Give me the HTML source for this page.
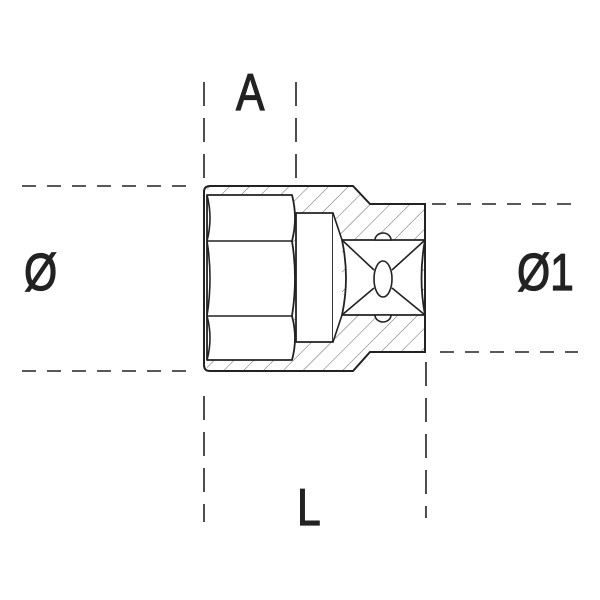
<!DOCTYPE html>
<html><head><style>
html,body{margin:0;padding:0;background:#fff;}
svg{display:block}
text{font-family:"Liberation Sans",sans-serif;fill:#222;stroke:#222;stroke-width:1.2;}
</style></head><body>
<svg width="600" height="600" viewBox="0 0 600 600" xmlns="http://www.w3.org/2000/svg">
<defs>
<pattern id="h" patternUnits="userSpaceOnUse" width="14" height="14" patternTransform="rotate(45)">
<line x1="0" y1="0" x2="0" y2="14" stroke="#555" stroke-width="0.9"/>
</pattern>
<clipPath id="wall">
<path d="M207,186 L353,186 L370,204 L425,204 L425,352 L370,352 L353,371 L207,371 Z" />
</clipPath>
</defs>
<g stroke="#222" stroke-width="1.6" stroke-dasharray="14,11" fill="none">
<line x1="22" y1="186" x2="192" y2="186"/>
<line x1="22" y1="371" x2="192" y2="371"/>
<line x1="432" y1="204" x2="578" y2="204"/>
<line x1="440" y1="352" x2="578" y2="352"/>
</g>
<g stroke="#222" stroke-width="1.6" stroke-dasharray="24,12" fill="none">
<line x1="204" y1="82" x2="204" y2="178"/>
<line x1="296" y1="82" x2="296" y2="178"/>
<line x1="204" y1="396" x2="204" y2="522"/>
<line x1="426" y1="362" x2="426" y2="518"/>
</g>
<rect x="200" y="180" width="230" height="200" fill="url(#h)" clip-path="url(#wall)"/>
<g fill="#fff" stroke="#222" stroke-width="1.8" stroke-linejoin="round">
<path d="M207,195 L292,195 Q298,218 292,241 Q298,278 292,316 Q298,338 292,360 L207,360 Z"/>
<rect x="296" y="213" width="37" height="129"/>
<path d="M333,213 L342,240 L342,315 L333,342 Z" stroke="none"/>
<path d="M342,240 L425,240 Q418,278 425,315 L342,315 Q350,278 342,240 Z"/>
</g>
<g stroke="#222" stroke-width="1.6" fill="none">
<line x1="333" y1="213" x2="342" y2="240"/>
<line x1="333" y1="342" x2="342" y2="315"/>
<line x1="207" y1="241" x2="292" y2="241"/>
<line x1="207" y1="316" x2="292" y2="316"/>
<path d="M207,195 Q213,218 207,241 Q213,278 207,316 Q213,338 207,360"/>
<line x1="342" y1="240" x2="374" y2="270"/>
<line x1="425" y1="240" x2="392" y2="270"/>
<line x1="342" y1="315" x2="374" y2="288"/>
<line x1="425" y1="315" x2="392" y2="288"/>
</g>
<ellipse cx="383" cy="279" rx="9" ry="18" fill="#fff" stroke="#222" stroke-width="1.6"/>
<path d="M375,240 A8,7 0 0 1 391,240 Z" fill="#fff" stroke="#222" stroke-width="1.6"/>
<path d="M375,315 A8,7 0 0 0 391,315 Z" fill="#fff" stroke="#222" stroke-width="1.6"/>
<path d="M210,186 L353,186 L370,204 L425,204 L425,352 L370,352 L353,371 L210,371 Q204,371 204,365 L204,192 Q204,186 210,186 Z" fill="none" stroke="#222" stroke-width="2"/>
<text x="0" y="0" font-size="52" transform="translate(236,110) scale(0.82,1)">A</text>
<text x="0" y="0" font-size="52" transform="translate(24,290) scale(0.82,1)">Ø</text>
<text x="0" y="0" font-size="52" transform="translate(517,290) scale(0.82,1)">Ø1</text>
<text x="0" y="0" font-size="52" transform="translate(297,525) scale(0.82,1)">L</text>
</svg>
</body></html>
